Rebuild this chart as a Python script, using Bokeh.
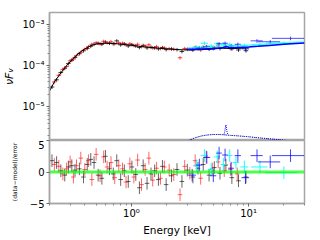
from bokeh.plotting import figure
from bokeh.layouts import column
from bokeh.models import FixedTicker, Range1d
from bokeh.embed import file_html
from bokeh.resources import INLINE

# ---------------- data ----------------
E_black = [0.21, 0.23, 0.25, 0.27, 0.29, 0.31, 0.33, 0.36, 0.39, 0.42, 0.45, 0.48, 0.52, 0.56, 0.60,
           0.65, 0.70, 0.75, 0.81, 0.87, 0.94, 1.01, 1.09, 1.17, 1.26, 1.36, 1.47, 1.58, 1.70, 1.84,
           1.98, 2.2, 2.45, 2.7, 3.0, 3.35, 3.7, 4.1, 4.6, 5.1, 5.7, 6.4, 7.2, 8.2, 9.5]
F_black = [3.0e-5, 4.5e-5, 6.8e-5, 8.6e-5, 1.12e-4, 1.35e-4, 1.58e-4, 1.95e-4, 2.3e-4, 2.6e-4, 2.95e-4,
           3.3e-4, 3.5e-4, 3.3e-4, 3.75e-4, 3.5e-4, 3.4e-4, 4.0e-4, 3.2e-4, 3.4e-4, 3.0e-4, 3.25e-4,
           3.0e-4, 2.75e-4, 3.1e-4, 2.7e-4, 2.8e-4, 2.7e-4, 2.55e-4, 2.75e-4, 2.45e-4, 2.55e-4, 2.45e-4,
           2.2e-4, 2.5e-4, 2.4e-4, 2.6e-4, 2.8e-4, 2.5e-4, 2.7e-4, 2.6e-4, 2.9e-4, 2.55e-4, 2.4e-4, 2.3e-4]
R_black = [1.8, 1.5, 0.2, -0.5, 0.8, 1.0, 0.3, 0.5, -0.8, 1.2, 2.0, 1.5, -0.5, -1.0, 2.5, 0.5, -0.3,
           1.8, -1.2, 0.2, -1.5, 0.8, -0.4, -2.5, 1.0, -1.8, -0.3, 0.2, -1.2, 0.9, -2.0, -0.6, 0.4,
           -1.5, 0.3, -0.8, 0.6, 1.2, -0.5, 0.7, -0.2, 1.1, -0.9, -1.4, -0.8]

E_red = [0.22, 0.24, 0.26, 0.28, 0.30, 0.32, 0.34, 0.37, 0.40, 0.43, 0.46, 0.50, 0.54, 0.58, 0.62,
         0.67, 0.72, 0.78, 0.84, 0.90, 0.97, 1.05, 1.13, 1.22, 1.31, 1.41, 1.52, 1.64, 1.77, 1.91,
         2.1, 2.3, 2.6, 2.85, 3.15, 3.5, 3.9, 4.35, 4.9, 5.5, 6.2, 7.0, 8.0]
F_red = [4.0e-5, 5.8e-5, 8.0e-5, 9.5e-5, 1.3e-4, 1.45e-4, 1.75e-4, 2.1e-4, 2.5e-4, 2.9e-4, 3.3e-4,
         3.6e-4, 3.4e-4, 3.9e-4, 3.6e-4, 3.8e-4, 3.4e-4, 3.6e-4, 3.5e-4, 3.2e-4, 3.4e-4, 3.1e-4,
         3.3e-4, 2.9e-4, 3.0e-4, 3.2e-4, 2.7e-4, 2.9e-4, 2.6e-4, 2.7e-4, 2.6e-4, 2.5e-4, 1.55e-4,
         2.6e-4, 2.5e-4, 2.8e-4, 2.4e-4, 2.9e-4, 2.7e-4, 3.0e-4, 2.8e-4, 2.6e-4, 2.8e-4]
R_red = [1.2, 0.9, -0.3, 0.5, 1.6, -0.8, 1.0, 2.2, 0.4, 1.8, -1.2, 2.8, -0.6, 2.4, 0.8, 1.5, -0.9,
         1.0, 0.5, -1.6, 1.3, -0.8, 1.9, -2.0, 0.4, 2.2, -1.3, 0.6, -1.0, 0.8, 0.3, -0.4, -3.6, 0.9,
         -0.2, 1.8, -1.0, 2.4, 0.5, 1.6, 0.2, 0.4, -0.3]

E_blue = [3.3, 3.8, 4.4, 5.0, 5.6, 6.3, 7.1, 8.1, 9.4, 11.8, 15.3, 22.8]
dE_blue = [0.25, 0.25, 0.3, 0.3, 0.3, 0.35, 0.4, 0.5, 0.7, 1.4, 3.3, 7.0]
F_blue = [2.5e-4, 2.7e-4, 2.9e-4, 2.6e-4, 3.4e-4, 3.5e-4, 3.0e-4, 3.3e-4, 2.55e-4, 4.0e-4, 3.8e-4, 4.6e-4]
R_blue = [-0.5, 1.1, 2.3, -0.6, 3.0, 2.7, 0.6, 2.6, -0.9, 2.6, 1.6, 2.6]

E_cyan = [3.6, 4.2, 4.8, 5.4, 6.1, 6.9, 7.8, 9.2, 12.5, 20.0]
dE_cyan = [0.25, 0.3, 0.3, 0.3, 0.35, 0.4, 0.5, 0.7, 2.0, 6.0]
F_cyan = [2.8e-4, 3.5e-4, 3.0e-4, 3.4e-4, 3.3e-4, 3.3e-4, 3.0e-4, 3.1e-4, 3.2e-4, 3.5e-4]
R_cyan = [1.0, 2.6, 0.4, 2.4, 1.2, 2.6, 1.5, 0.8, 0.8, -0.1]

E_model = [0.2, 0.22, 0.25, 0.28, 0.32, 0.36, 0.4, 0.45, 0.5, 0.6, 0.7, 0.8, 1.0, 1.3, 1.6, 2.0,
           2.5, 3.0, 4.0, 5.0, 6.0, 7.0, 8.0, 10.0]
M_black = [2.4e-5, 4.0e-5, 6.6e-5, 1.0e-4, 1.5e-4, 2.05e-4, 2.55e-4, 3.05e-4, 3.35e-4, 3.5e-4,
           3.45e-4, 3.35e-4, 3.1e-4, 2.85e-4, 2.7e-4, 2.55e-4, 2.45e-4, 2.4e-4, 2.45e-4, 2.55e-4,
           2.65e-4, 2.6e-4, 2.62e-4, 2.7e-4]
E_hard = [3.0, 4.0, 5.0, 6.0, 6.4, 7.0, 8.0, 10.0, 12.0, 15.0, 20.0, 25.0, 30.0]
M_blue = [2.45e-4, 2.55e-4, 2.62e-4, 2.7e-4, 2.9e-4, 2.7e-4, 2.75e-4, 2.85e-4, 2.95e-4, 3.1e-4,
          3.3e-4, 3.45e-4, 3.55e-4]
M_cyan = [2.6e-4, 2.7e-4, 2.8e-4, 2.9e-4, 3.05e-4, 2.9e-4, 2.95e-4, 3.05e-4, 3.15e-4, 3.3e-4,
          3.5e-4, 3.62e-4, 3.7e-4]

E_comp = [3.0, 3.5, 4.0, 4.5, 5.0, 5.5, 6.0, 7.0, 8.0, 10.0, 12.0, 15.0, 19.0, 24.0]
C_broad = [1.45e-6, 1.75e-6, 1.95e-6, 2.05e-6, 2.1e-6, 2.1e-6, 2.08e-6, 2.0e-6, 1.95e-6, 1.85e-6,
           1.75e-6, 1.65e-6, 1.55e-6, 1.45e-6]
E_line = [6.15, 6.25, 6.35, 6.4, 6.45, 6.55, 6.65]
C_line = [2.1e-6, 2.4e-6, 3.2e-6, 3.6e-6, 3.2e-6, 2.4e-6, 2.1e-6]

E_zero = [0.2, 30.0]
R_zero = [0.0, 0.0]

FLUX_REL_ERR = 0.10
BIN_FRAC = 0.045

y_ticks = [1e-5, 1e-4, 1e-3]
y_labels = ["10⁻⁵", "10⁻⁴", "10⁻³"]
x_ticks = [1.0, 10.0]
x_labels = ["10⁰", "10¹"]
r_ticks = [-5, 0, 5]
r_labels = ["−5", "0", "5"]

# ---------------- styling ----------------
FONT = "DejaVu Sans"
GRAY = "#a6a6a6"

xr = Range1d(0.2, 30.0)

top = figure(x_axis_type="log", y_axis_type="log", x_range=xr, y_range=Range1d(1.5e-6, 1.96e-3),
             width=318, height=140, min_border_left=48, min_border_right=14,
             min_border_top=12, min_border_bottom=0, output_backend="svg", toolbar_location=None)
bot = figure(x_axis_type="log", x_range=xr, y_range=Range1d(-5, 5),
             width=318, height=98, min_border_left=48, min_border_right=14,
             min_border_top=0, min_border_bottom=34, output_backend="svg", toolbar_location=None)

for p in (top, bot):
    p.grid.visible = False
    p.outline_line_color = GRAY
    p.outline_line_width = 1.5
    p.background_fill_color = "white"
    p.border_fill_color = "white"
    for ax in (p.xaxis[0], p.yaxis[0]):
        ax.axis_line_color = GRAY
        ax.axis_line_width = 1.5
        ax.major_tick_line_color = "#666666"
        ax.minor_tick_line_color = "#888888"
        ax.major_tick_out = 3
        ax.major_tick_in = 0
        ax.minor_tick_out = 2
        ax.minor_tick_in = 0
        ax.major_label_text_font = FONT
        ax.major_label_text_font_size = "10px"
        ax.major_label_text_color = "black"
        ax.major_label_standoff = 2
        ax.axis_label_text_font = FONT
        ax.axis_label_text_font_style = "normal"
        ax.axis_label_text_color = "black"

top.xaxis.visible = False
minor_y = [m * 10.0 ** e for e in (-6, -5, -4, -3) for m in range(2, 10)]
top.yaxis.ticker = FixedTicker(ticks=y_ticks, minor_ticks=minor_y)
top.yaxis.major_label_overrides = dict(zip(y_ticks, y_labels))
top.yaxis.axis_label = "νFᵥ"
top.yaxis.axis_label_text_font_style = "italic"
top.yaxis.axis_label_text_font_size = "11px"
top.yaxis.axis_label_standoff = 3

minor_x = [m * 10.0 ** e for e in (-1, 0, 1) for m in range(2, 10)]
bot.xaxis.ticker = FixedTicker(ticks=x_ticks, minor_ticks=minor_x)
bot.xaxis.major_label_overrides = dict(zip(x_ticks, x_labels))
bot.xaxis.axis_label = "Energy [keV]"
bot.xaxis.axis_label_text_font_size = "10.5px"
bot.xaxis.axis_label_standoff = 2
bot.xaxis.major_label_standoff = 1
bot.yaxis.ticker = FixedTicker(ticks=r_ticks, minor_ticks=[])
bot.yaxis.major_label_overrides = dict(zip(r_ticks, r_labels))
bot.yaxis.axis_label = "(data−model)/error"
bot.yaxis.axis_label_text_font_size = "6px"
bot.yaxis.axis_label_standoff = 9


def crosses(p, E, F, dE, dF_lo, dF_hi, color, alpha, width=1):
    p.segment(x0=[e - d for e, d in zip(E, dE)], y0=F, x1=[e + d for e, d in zip(E, dE)], y1=F,
              line_color=color, line_alpha=alpha, line_width=width)
    p.segment(x0=E, y0=dF_lo, x1=E, y1=dF_hi, line_color=color, line_alpha=alpha, line_width=width)


def flux_set(E, F, dE, color, alpha):
    crosses(top, E, F, dE, [f * (1 - FLUX_REL_ERR) for f in F], [f * (1 + FLUX_REL_ERR) for f in F],
            color, alpha)


def resid_set(E, R, dE, color, alpha):
    crosses(bot, E, R, dE, [r - 1 for r in R], [r + 1 for r in R], color, alpha)


dE_black = [e * BIN_FRAC for e in E_black]
dE_red = [e * BIN_FRAC for e in E_red]

# top panel
flux_set(E_black, F_black, dE_black, "black", 0.75)
flux_set(E_red, F_red, dE_red, "red", 0.7)
flux_set(E_cyan, F_cyan, dE_cyan, "cyan", 0.9)
flux_set(E_blue, F_blue, dE_blue, "blue", 0.7)
top.line(E_hard, M_cyan, line_color="cyan", line_width=3, line_alpha=0.45)
top.line(E_model, M_black, line_color="black", line_width=1)
top.line(E_hard, M_blue, line_color="blue", line_width=1.5)
top.line(E_comp, C_broad, line_color="blue", line_width=1, line_dash="1 1")
top.line(E_comp, C_broad, line_color="black", line_width=0.8, line_dash="1 2", line_alpha=0.6)
top.line(E_line, C_line, line_color="blue", line_width=1, line_dash="1 1")

# residual panel
resid_set(E_black, R_black, dE_black, "black", 0.6)
resid_set(E_red, R_red, dE_red, "red", 0.6)
resid_set(E_cyan, R_cyan, dE_cyan, "cyan", 0.9)
resid_set(E_blue, R_blue, dE_blue, "blue", 0.75)
bot.line(E_zero, R_zero, line_color="lime", line_width=3, line_alpha=0.7)

layout = column(top, bot, spacing=0)
open("out.html", "w").write(file_html(layout, INLINE))
